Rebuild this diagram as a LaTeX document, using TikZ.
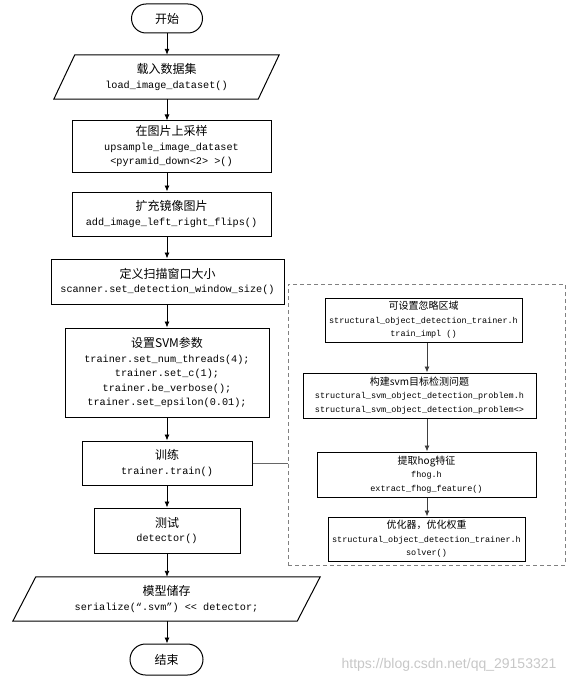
\documentclass[tikz,border=0pt]{standalone}
\usepackage{fontspec}
\setmonofont{Liberation Mono}
\setsansfont{Liberation Sans}
\newfontfamily\cjk{Noto Sans CJK SC}
\usepackage{tikz}
\usetikzlibrary{arrows.meta}

\tikzset{
  box/.style={draw, line width=1pt, inner sep=0pt, align=center,
    font=\fontsize{10.2pt}{14.5pt}\selectfont\ttfamily},
  subbox/.style={box, font=\fontsize{8.5pt}{13.5pt}\selectfont\ttfamily},
  plain/.style={inner sep=0pt, align=center,
    font=\fontsize{10.2pt}{14.5pt}\selectfont\ttfamily},
  term/.style={box, rounded corners=14.5pt},
  arr/.style={-{Latex[length=6pt,width=5pt]}, line width=0.9pt},
  subarr/.style={arr, draw=black!75},
}
\newcommand{\zh}[1]{{\cjk\fontsize{12pt}{14.5pt}\selectfont #1}}
\newcommand{\zhs}[1]{{\cjk\fontsize{10pt}{13.5pt}\selectfont #1}}

\begin{document}
\begin{tikzpicture}[x=1pt,y=-1pt]
    \useasboundingbox (0,0) rectangle (579,682);
    \coordinate (axis) at (167,0);
    \coordinate (subaxis) at (427,0);

    % main column
    \node[term, minimum width=71pt, minimum height=29pt] (start) at (167,18.5) {\zh{开始}};
    \node[plain, minimum width=225pt, minimum height=44pt] (load) at (166.5,77)
      {\zh{载入数据集}\\load\_image\_dataset()};
    \draw[line width=1pt] ([xshift=21pt]load.north west) -- (load.north east)
      -- ([xshift=-21pt]load.south east) -- (load.south west) -- cycle;
    \node[box, minimum width=199pt, minimum height=51pt] (upsample) at (171.5,146.5)
      {\zh{在图片上采样}\\upsample\_image\_dataset\\<pyramid\_down<2> >()};
    \node[box, minimum width=199pt, minimum height=44pt] (flips) at (171.5,214)
      {\zh{扩充镜像图片}\\add\_image\_left\_right\_flips()};
    \node[box, minimum width=233pt, minimum height=45pt] (window) at (167.5,281.5)
      {\zh{定义扫描窗口大小}\\scanner.set\_detection\_window\_size()};
    \node[box, minimum width=204pt, minimum height=89pt] (svm) at (167,372.5)
      {\zh{设置SVM参数}\\trainer.set\_num\_threads(4);\\trainer.set\_c(1);\\trainer.be\_verbose();\\trainer.set\_epsilon(0.01);};
    \node[box, minimum width=170pt, minimum height=44pt] (train) at (167,463)
      {\zh{训练}\\trainer.train()};
    \node[box, minimum width=146pt, minimum height=45pt] (detect) at (167,530.5)
      {\zh{测试}\\detector()};
    \node[plain, minimum width=307pt, minimum height=44pt] (save) at (166.5,599)
      {\zh{模型储存}\\serialize(“.svm”) << detector;};
    \draw[line width=1pt] ([xshift=23pt]save.north west) -- (save.north east)
      -- ([xshift=-23pt]save.south east) -- (save.south west) -- cycle;
    \node[term, minimum width=73pt, minimum height=31pt, rounded corners=15.5pt] (stop) at (166.5,659.5) {\zh{结束}};

    \foreach \a/\b in {start/load, load/upsample, upsample/flips, flips/window,
                       window/svm, svm/train, train/detect, detect/save, save/stop}
      \draw[arr] (\a.south -| axis) -- (\b.north -| axis);

    % training details
    \node[draw=black!50, line width=1pt, dash pattern=on 4pt off 3pt,
          minimum width=277pt, minimum height=281pt, inner sep=0pt] (group) at (426.5,424.5) {};
    \node[subbox, minimum width=197pt, minimum height=44pt] (ignore) at (423.5,320)
      {\zhs{可设置忽略区域}\\structural\_object\_detection\_trainer.h\\train\_impl ()};
    \node[subbox, minimum width=233pt, minimum height=45pt] (problem) at (419.5,395.5)
      {\zhs{构建svm目标检测问题}\\structural\_svm\_object\_detection\_problem.h\\structural\_svm\_object\_detection\_problem<>};
    \node[subbox, minimum width=219pt, minimum height=45pt] (hog) at (426.5,474.5)
      {\zhs{提取hog特征}\\fhog.h\\extract\_fhog\_feature()};
    \node[subbox, minimum width=197pt, minimum height=44pt] (solver) at (426.5,539)
      {\zhs{优化器，优化权重}\\structural\_object\_detection\_trainer.h\\solver()};

    \foreach \a/\b in {ignore/problem, problem/hog, hog/solver}
      \draw[subarr] (\a.south -| subaxis) -- (\b.north -| subaxis);

    \draw[draw=black!60, line width=1pt] (train.east) -- (train.east -| group.west);

    \node[text=black!22, font=\fontsize{14pt}{14pt}\selectfont\sffamily] (mark) at (449,665)
      {https://blog.csdn.net/qq\_29153321};
\end{tikzpicture}
\end{document}
